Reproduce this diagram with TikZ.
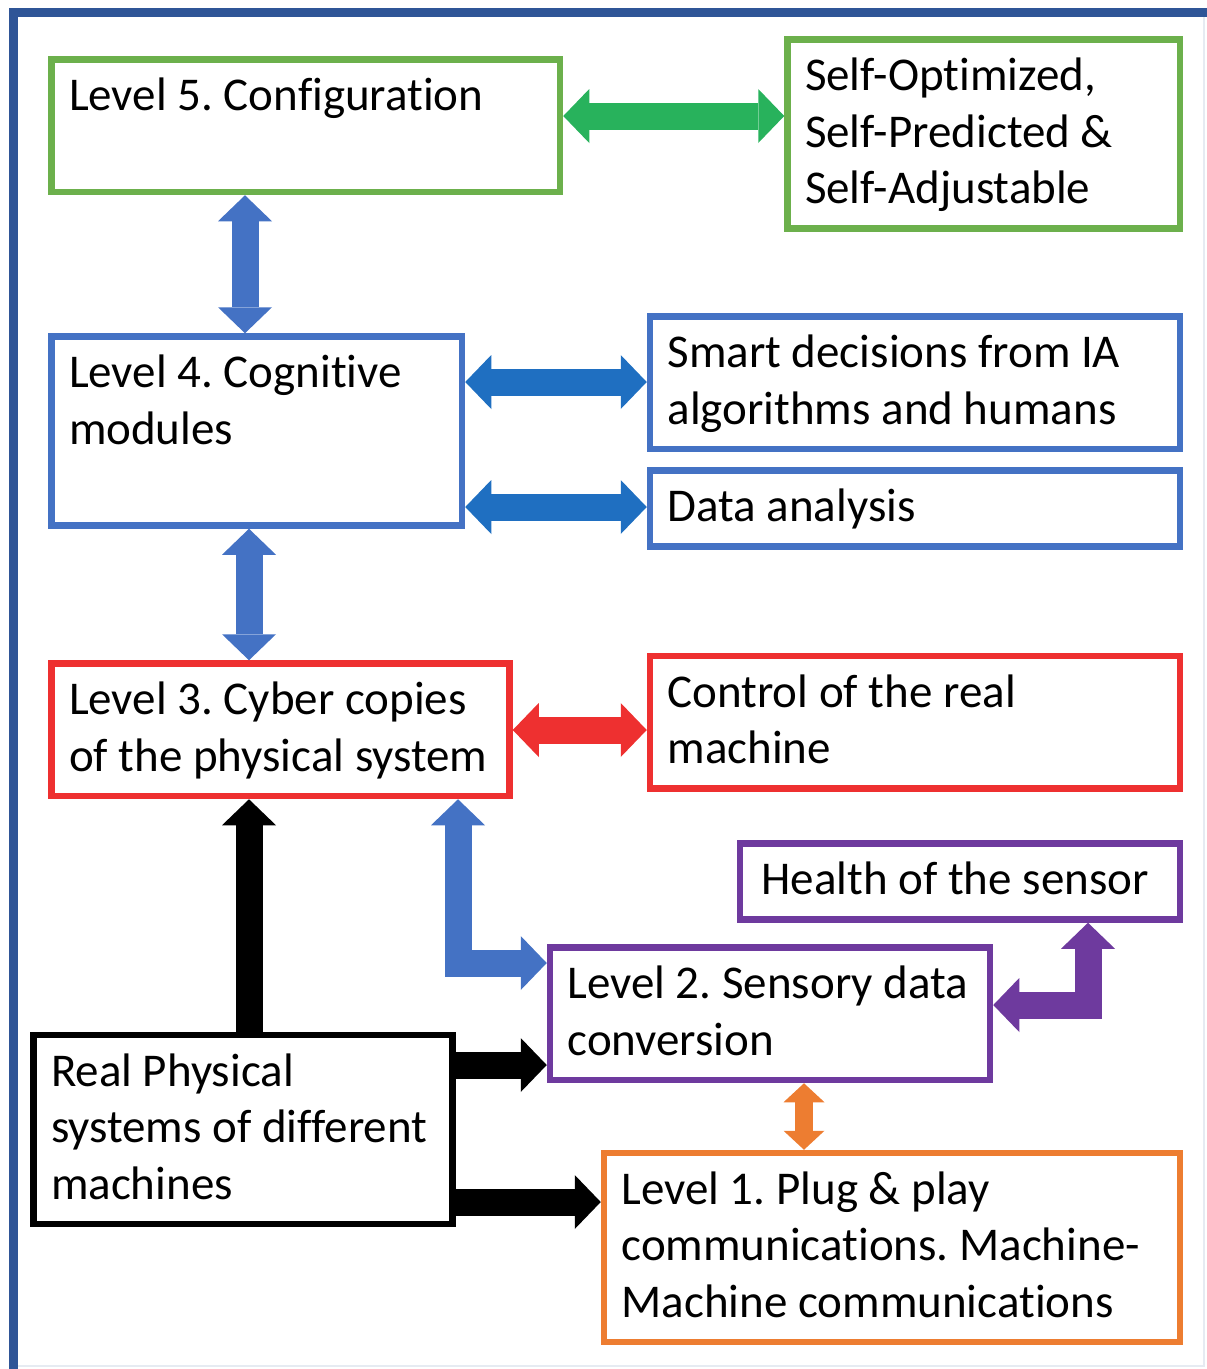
\documentclass[tikz,border=0pt]{standalone}
\usepackage{fontspec}
\setmainfont{Carlito}[Ligatures=NoCommon]
\usepackage{xcolor}
\usetikzlibrary{arrows.meta}

\definecolor{frameblue}{RGB}{47,85,151}
\definecolor{boxgreen}{RGB}{108,176,76}
\definecolor{arrowgreen}{RGB}{40,178,92}
\definecolor{boxblue}{RGB}{68,114,196}
\definecolor{arrowblue}{RGB}{31,111,193}
\definecolor{boxred}{RGB}{238,48,48}
\definecolor{boxpurple}{RGB}{110,58,158}
\definecolor{boxorange}{RGB}{237,125,49}
\definecolor{edgegray}{RGB}{230,235,242}

% one text line of a box, always the same height, natural word spaces
\newcommand{\boxline}[1]{\mbox{\spaceskip=0pt\xspaceskip=0pt\rule[-15pt]{0pt}{56.5pt}#1}}
\frenchspacing

\begin{document}
\begin{tikzpicture}[x=1pt, y=-1pt,
    level/.style={draw=#1, line width=6.5pt, anchor=north west, inner xsep=17.5pt,
        inner ysep=9.75pt, align=left, font=\fontsize{47}{56.5}\selectfont},
    >={Triangle[length=26pt,width=54pt,line width=0pt]},
    fat/.style={draw=#1, line width=27pt},
    thin/.style={draw=#1, line width=18pt,
        {Triangle[length=19pt,width=41pt,line width=0pt]}-{Triangle[length=19pt,width=41pt,line width=0pt]}}]
    \useasboundingbox (0,0) rectangle (1207,1369);

    % outer frame
    \draw[edgegray, line width=2pt] (1204,17) -- (1204,1366) -- (18,1366);
    \draw[frameblue, line width=9pt] (1215,12.5) -- (13.5,12.5) -- (13.5,1375);

    % Level 5
    \node[level=boxgreen, text width=473.5pt] (l5) at (48.25,56.25)
        {\boxline{Level 5. Configuration}\\\boxline{}};
    \node[level=boxgreen, text width=357.5pt] (self) at (784.25,36.25)
        {\boxline{Self-Optimized,}\\\boxline{Self-Predicted \&}\\\boxline{Self-Adjustable}};

    % Level 4
    \node[level=boxblue, text width=375.5pt] (l4) at (48.25,333.25)
        {\boxline{Level 4. Cognitive}\\\boxline{modules}\\\boxline{}};
    \node[level=boxblue, text width=495pt] (smart) at (646.75,313.25)
        {\boxline{Smart decisions from IA}\\\boxline{algorithms and humans}};
    \node[level=boxblue, text width=495pt] (data) at (646.75,467.25)
        {\boxline{Data analysis}};

    % Level 3
    \node[level=boxred, text width=423pt] (l3) at (48.25,660.25)
        {\boxline{Level 3. Cyber copies}\\\boxline{of the physical system}};
    \node[level=boxred, text width=495pt] (control) at (646.75,652.75)
        {\boxline{Control of the real}\\\boxline{machine}};

    % Level 2
    \node[level=boxpurple, text width=405pt] (health) at (736.75,840.25)
        {\boxline{\hspace{4pt}Health of the sensor}};
    \node[level=boxpurple, text width=405pt] (l2) at (546.75,944.25)
        {\boxline{Level 2. Sensory data}\\\boxline{conversion}};

    % Level 1 and the machines
    \node[level=boxorange, text width=541pt] (l1) at (600.75,1149.75)
        {\boxline{Level 1. Plug \& play}\\\boxline{communications. Machine-}\\\boxline{Machine communications}};
    \node[level=black, text width=384pt] (real) at (30.25,1031.75)
        {\boxline{Real Physical}\\\boxline{systems of different}\\\boxline{machines}};

    % block arrows
    \draw[fat=arrowgreen, <->] (l5.east |- 0,116) -- (self.west |- 0,116);
    \draw[fat=boxblue, <->] (l5.south -| 245,0) -- (l4.north -| 245,0);
    \draw[fat=arrowblue, <->] (l4.east |- 0,382) -- (smart.west |- 0,382);
    \draw[fat=arrowblue, <->] (l4.east |- 0,507) -- (data.west |- 0,507);
    \draw[fat=boxblue, <->] (l4.south -| 249,0) -- (l3.north -| 249,0);
    \draw[fat=boxred, <->] (l3.east |- 0,730) -- (control.west |- 0,730);
    \draw[fat=boxblue, <->] (l3.south -| 458,0) |- (l2.west |- 0,963);
    \draw[fat=boxpurple, <->] (health.south -| 1088,0) |- (l2.east |- 0,1005);
    \draw[thin=boxorange] (l2.south -| 804,0) -- (l1.north -| 804,0);
    \draw[fat=black, ->] (real.north -| 249,0) -- (l3.south -| 249,0);
    \draw[fat=black, ->] (real.east |- 0,1065) -- (l2.west |- 0,1065);
    \draw[fat=black, ->] (real.east |- 0,1202) -- (l1.west |- 0,1202);
\end{tikzpicture}
\end{document}
